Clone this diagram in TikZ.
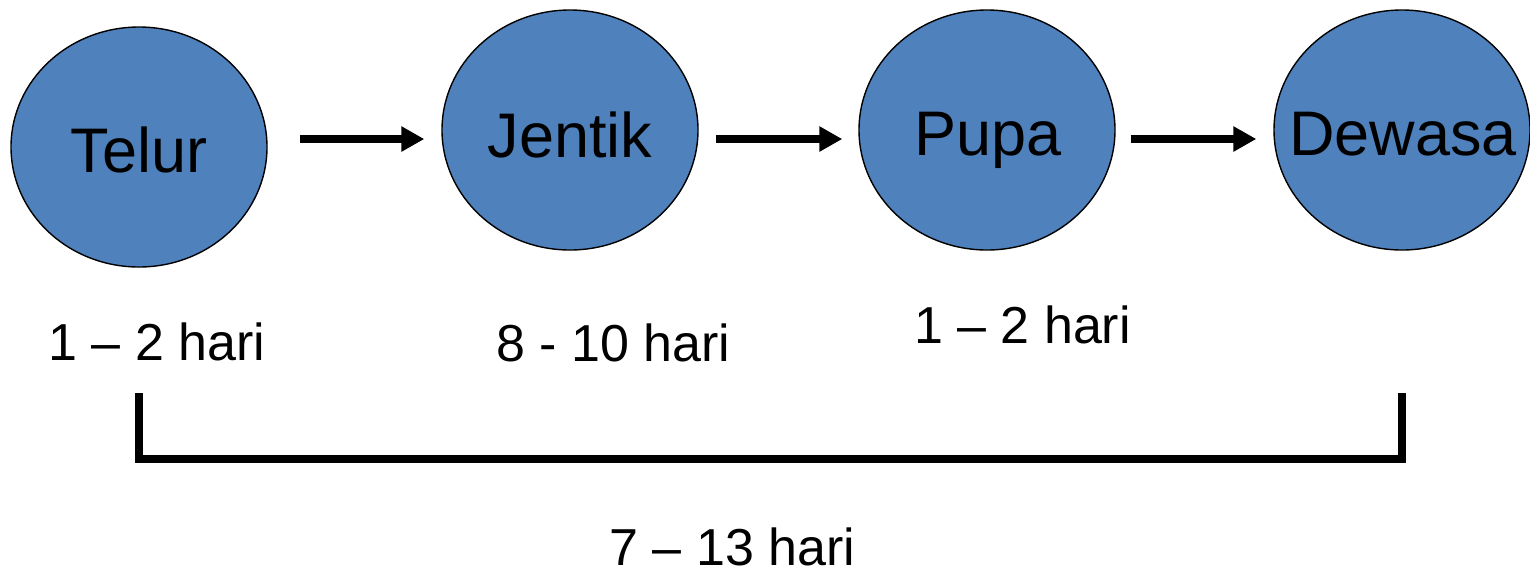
\documentclass[tikz,border=0pt]{standalone}
\usepackage{fontspec}
\setmainfont{Liberation Sans}
\usetikzlibrary{shapes.geometric,arrows.meta}
\definecolor{stageblue}{HTML}{4F81BD}
\tikzset{
  stage/.style={ellipse, draw=black, line width=0.7pt, fill=stageblue, inner sep=0pt, minimum width=128pt, minimum height=120pt},
  stagetext/.style={anchor=base, inner sep=0pt, font=\fontsize{31.5pt}{36pt}\selectfont},
  daylabel/.style={anchor=base, inner sep=0pt, font=\fontsize{26pt}{30pt}\selectfont},
  flow/.style={line width=4pt, -{Triangle[length=11.5pt,width=12pt]}},
  bracketline/.style={line width=4pt, line cap=rect}
}
\begin{document}
\begin{tikzpicture}[x=0.5pt, y=-0.5pt]
\useasboundingbox (0,0) rectangle (1530,575);
% stages
\node[stage] (telur)  at (139,147) {};
\node[stage] (jentik) at (570,130) {};
\node[stage] (pupa)   at (987,130) {};
\node[stage] (dewasa) at (1402,130) {};
\node[stagetext] (ttelur)  at (139,172)  {Telur};
\node[stagetext] (tjentik) at (570,157)  {Jentik};
\node[stagetext] (tpupa)   at (988,155)  {Pupa};
\node[stagetext] (tdewasa) at (1403,155) {Dewasa};
% arrows
\coordinate (row) at (0,139);
\draw[flow, shorten <=16pt, shorten >=8.5pt] (telur.east |- row) -- (jentik.west |- row);
\draw[flow, shorten <=8.5pt, shorten >=8pt] (jentik.east |- row) -- (pupa.west |- row);
\draw[flow, shorten <=7.5pt, shorten >=8.5pt] (pupa.east |- row) -- (dewasa.west |- row);
% duration labels
\node[daylabel] (d1) at (157,360)   {1 -- 2 hari};
\node[daylabel] (d2) at (613.5,361) {8 - 10 hari};
\node[daylabel] (d3) at (1022.5,343) {1 -- 2 hari};
\node[daylabel] (dt) at (732.5,565) {7 -- 13 hari};
% bracket
\coordinate (btop) at (0,397);
\coordinate (bbot) at (0,459);
\draw[bracketline] (telur |- btop) -- (telur |- bbot) -- (dewasa |- bbot) -- (dewasa |- btop);
\end{tikzpicture}
\end{document}
